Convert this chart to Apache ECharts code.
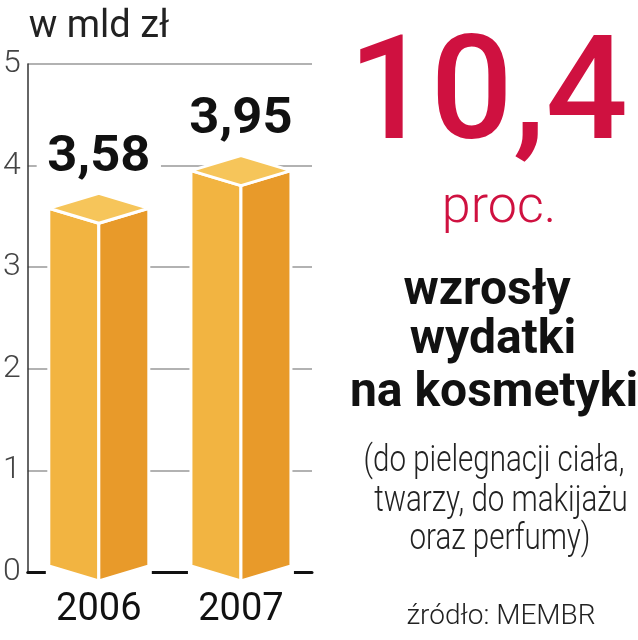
<!DOCTYPE html>
<html>
<head>
<meta charset="utf-8">
<script src="https://cdn.jsdelivr.net/npm/echarts@6/dist/echarts.min.js"></script>
<style>
  html, body { margin: 0; padding: 0; background: #fff; }
  #chart { width: 638px; height: 640px; }
</style>
</head>
<body>
<div id="chart"></div>
<script>
// ---- data ----
const categories = ['2006', '2007'];
const values = [3.58, 3.95];
const yMin = 0, yMax = 5, yStep = 1;
const unitLabel = 'w mld zł';
const headlineValue = '10,4';
const headlineUnit = 'proc.';
const headingLines = ['wzrosły', 'wydatki', 'na kosmetyki'];
const noteLines = ['(do pielegnacji ciała,', 'twarzy, do makijażu', 'oraz perfumy)'];
const sourceText = 'źródło: MEMBR';

// ---- styles ----
const FONT = 'Roboto, "Noto Sans", sans-serif';
const RED = '#CF1140';
const C_LEFT = '#F2B441';
const C_RIGHT = '#E89A2A';
const C_TOP = '#F6C55A';

const chart = echarts.init(document.getElementById('chart'), null, { renderer: 'canvas' });

function fmt(v) { return v.toFixed(2).replace('.', ','); }

function renderItem(params, api) {
  const idx = api.value(0);
  const val = api.value(1);
  const top = api.coord([idx, val]);
  const base = api.coord([idx, 0]);
  const cx = top[0];
  const half = 50, d = 15;
  const yv = top[1], y0 = base[1];
  const stroke = { stroke: '#fff', lineWidth: 3, lineJoin: 'round' };
  return {
    type: 'group',
    children: [
      { type: 'rect', shape: { x: cx - half - 3, y: y0 - 10, width: 2 * half + 6, height: 14 }, style: { fill: '#fff' } },
      { type: 'polygon', shape: { points: [[cx - half, y0 - 6], [cx - half, yv], [cx, yv + d], [cx, y0 + 9]] },
        style: Object.assign({ fill: C_LEFT }, stroke) },
      { type: 'polygon', shape: { points: [[cx, y0 + 9], [cx, yv + d], [cx + half, yv], [cx + half, y0 - 6]] },
        style: Object.assign({ fill: C_RIGHT }, stroke) },
      { type: 'polygon', shape: { points: [[cx - half, yv], [cx, yv - d], [cx + half, yv], [cx, yv + d]] },
        style: Object.assign({ fill: C_TOP }, stroke) },
      { type: 'text', x: cx, y: yv - 50, scaleX: 1.05,
        style: { text: fmt(val), fontFamily: FONT, fontWeight: 'bold', fontSize: 50,
          fill: '#111', align: 'center', verticalAlign: 'middle',
          backgroundColor: '#fff', padding: [0, 10] } }
    ]
  };
}

function txt(text, x, y, size, weight, color, scaleX) {
  return {
    type: 'text', x: x, y: y, scaleX: scaleX || 1, originX: 0, originY: 0,
    style: { text: text, fontFamily: FONT, fontSize: size, fontWeight: weight, fill: color,
      align: 'center', verticalAlign: 'middle' }
  };
}

const graphics = [
  txt(unitLabel, 99, 27, 38, 'normal', '#222', 1.0),
  txt(headlineValue, 488, 102, 145, 500, RED),
  txt(headlineUnit, 499, 209, 52, 300, RED),
  txt(headingLines[0], 487, 292, 48, 'bold', '#111'),
  txt(headingLines[1], 493, 341, 48, 'bold', '#111'),
  txt(headingLines[2], 494, 394, 48, 'bold', '#111'),
  txt(noteLines[0], 494, 462, 36, 300, '#222', 0.82),
  txt(noteLines[1], 501, 502, 36, 300, '#222', 0.82),
  txt(noteLines[2], 500, 540, 36, 300, '#222', 0.82),
  txt(sourceText, 501, 617, 28, 300, '#222')
];

chart.setOption({
  animation: false,
  backgroundColor: '#fff',
  grid: { left: 22, right: 326, top: 64, bottom: 68, containLabel: false },
  xAxis: {
    type: 'category', data: categories, boundaryGap: true,
    axisLine: { show: true, lineStyle: { color: '#111', width: 3 } },
    axisTick: { show: false },
    axisLabel: { color: '#111', fontSize: 38, fontFamily: FONT, margin: 19 },
    splitLine: { show: false }, z: 1
  },
  yAxis: {
    type: 'value', min: yMin, max: yMax, interval: yStep,
    axisLine: { show: true, lineStyle: { color: '#333', width: 1.5 } },
    axisTick: { show: false },
    axisLabel: { color: '#444', fontSize: 32, fontWeight: 300, fontFamily: FONT, margin: 7, padding: [0, 0, 14, 0] },
    splitLine: { show: true, lineStyle: { color: '#999', width: 1.5 } }
  },
  series: [{
    type: 'custom', renderItem: renderItem, z: 5,
    data: values.map((v, i) => [i, v])
  }],
  graphic: graphics
});
</script>
</body>
</html>
